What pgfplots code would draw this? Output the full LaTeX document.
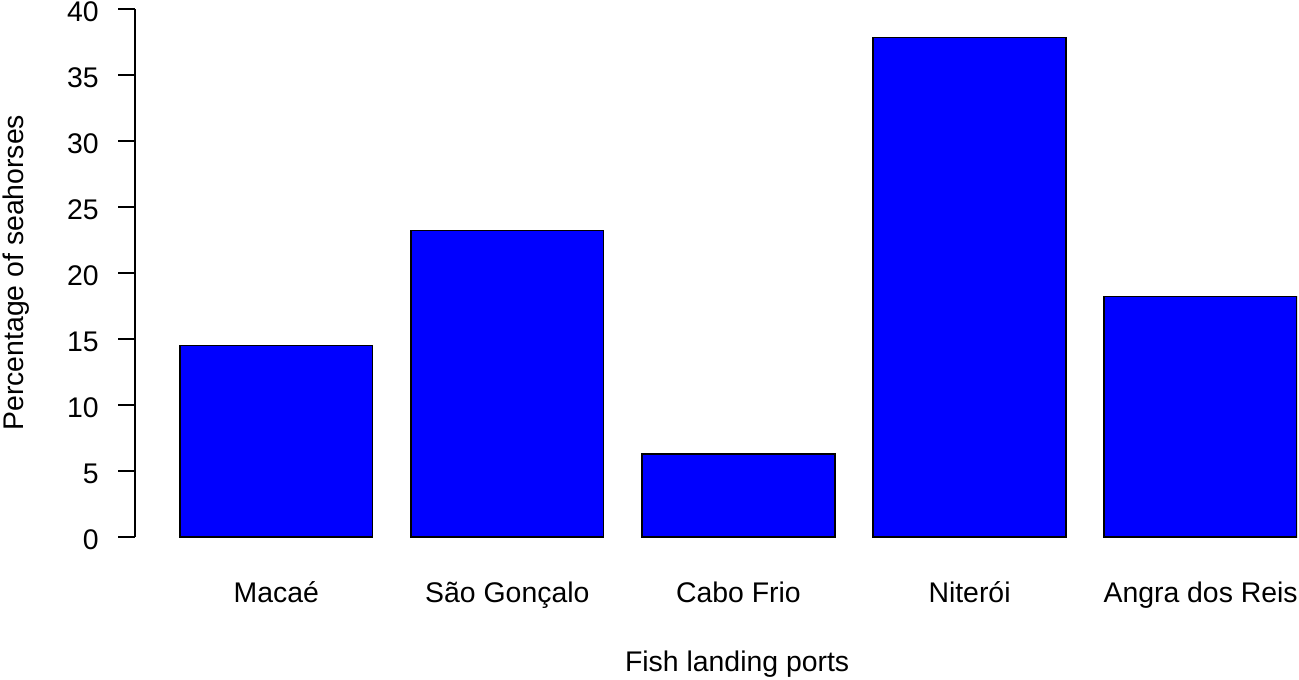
\documentclass[border=0pt]{standalone}
\usepackage{pgfplots}
\pgfplotsset{compat=1.18}
\usepackage{fontspec}
\setmainfont{Liberation Sans}
\newcommand{\rfont}{\fontsize{14.2}{17}\selectfont}
\begin{document}
\begin{tikzpicture}
\begin{axis}[
  scale only axis, width=580.75pt, height=264.25pt,
  ybar, bar width=0.833,
  xmin=-0.609, xmax=4.417, ymin=0, ymax=40,
  axis x line=bottom, axis y line=left,
  axis line style={-, line width=1pt},
  x axis line style={draw=none},
  xtick={0,1,2,3,4},
  xticklabels={Macaé,São Gonçalo,Cabo Frio,Niterói,Angra dos Reis},
  xtick style={draw=none},
  xticklabel style={font=\rfont, anchor=base, yshift=-24pt},
  ytick={0,5,...,40},
  tick align=outside, major tick length=8.5pt,
  ytick style={line width=1pt, black},
  yticklabel style={font=\rfont, anchor=east, inner sep=0pt, xshift=-9.75pt, yshift=-1.5pt},
  /pgf/number format/assume math mode=true,
  xlabel={Fish landing ports},
  ylabel={Percentage of seahorses},
  xlabel style={font=\rfont, at={(axis description cs:0.518,-0.240)}, anchor=center},
  ylabel style={font=\rfont, at={(axis description cs:-0.103,0.5)}, anchor=center},
]
\addplot[fill={rgb,255:red,0;green,0;blue,255}, draw=black, line width=0.9pt]
  coordinates {(0,14.5) (1,23.2) (2,6.3) (3,37.8) (4,18.2)};
\end{axis}
\pgfresetboundingbox
\path[use as bounding box] ([shift={(-67.75pt,-71pt)}]current axis.south west)
  rectangle ([shift={(1pt,4.25pt)}]current axis.north east);
\end{tikzpicture}
\end{document}
